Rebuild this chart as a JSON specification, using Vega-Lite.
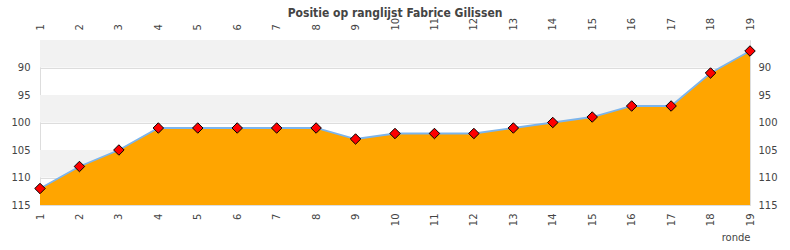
{
  "$schema": "https://vega.github.io/schema/vega-lite/v6.json",
  "width": 710,
  "height": 165,
  "autosize": {"type": "none"},
  "padding": {"left": 40, "top": 40, "right": 40, "bottom": 45},
  "background": "white",
  "title": {
    "text": "Positie op ranglijst Fabrice Gilissen",
    "font": "DejaVu Sans Condensed",
    "fontSize": 12,
    "fontWeight": "bold",
    "color": "#444444",
    "anchor": "middle",
    "offset": -3
  },
  "config": {
    "view": {"stroke": "#dddddd", "strokeWidth": 1},
    "axis": {
      "labelFont": "DejaVu Sans",
      "labelFontSize": 10,
      "labelColor": "#444444",
      "titleFont": "DejaVu Sans",
      "titleFontSize": 10,
      "titleFontWeight": "normal",
      "titleColor": "#444444",
      "ticks": false,
      "domain": false
    }
  },
  "datasets": {
    "stand": [
      {"ronde": 1, "positie": 112},
      {"ronde": 2, "positie": 108},
      {"ronde": 3, "positie": 105},
      {"ronde": 4, "positie": 101},
      {"ronde": 5, "positie": 101},
      {"ronde": 6, "positie": 101},
      {"ronde": 7, "positie": 101},
      {"ronde": 8, "positie": 101},
      {"ronde": 9, "positie": 103},
      {"ronde": 10, "positie": 102},
      {"ronde": 11, "positie": 102},
      {"ronde": 12, "positie": 102},
      {"ronde": 13, "positie": 101},
      {"ronde": 14, "positie": 100},
      {"ronde": 15, "positie": 99},
      {"ronde": 16, "positie": 97},
      {"ronde": 17, "positie": 97},
      {"ronde": 18, "positie": 91},
      {"ronde": 19, "positie": 87}
    ],
    "banden": [
      {"van": 85, "tot": 90},
      {"van": 95, "tot": 100},
      {"van": 105, "tot": 110}
    ]
  },
  "layer": [
    {
      "data": {"name": "banden"},
      "mark": {"type": "rect", "color": "#f2f2f2"},
      "encoding": {
        "y": {"field": "van", "type": "quantitative", "scale": {"domain": [85, 115], "reverse": true, "zero": false, "nice": false}, "axis": null},
        "y2": {"field": "tot"}
      }
    },
    {
      "data": {"name": "stand"},
      "mark": {"type": "area", "color": "#ffa500", "interpolate": "linear"},
      "encoding": {
        "x": {
          "field": "ronde", "type": "quantitative",
          "scale": {"domain": [1, 19], "nice": false, "zero": false},
          "axis": {"orient": "bottom", "values": [1,2,3,4,5,6,7,8,9,10,11,12,13,14,15,16,17,18,19], "labelAngle": 270, "labelPadding": 8, "grid": false, "title": "ronde", "titleAnchor": "end", "titlePadding": 7}
        },
        "y": {
          "field": "positie", "type": "quantitative",
          "scale": {"domain": [85, 115], "reverse": true, "zero": false, "nice": false},
          "axis": {"orient": "left", "values": [90, 95, 100, 105, 110, 115], "grid": true, "gridColor": "#dddddd", "labelPadding": 10, "title": null}
        },
        "y2": {"datum": 115}
      }
    },
    {
      "data": {"name": "stand"},
      "mark": {"type": "line", "color": "#7cb5ec", "strokeWidth": 1.8},
      "encoding": {
        "x": {
          "field": "ronde", "type": "quantitative",
          "axis": {"orient": "top", "values": [1,2,3,4,5,6,7,8,9,10,11,12,13,14,15,16,17,18,19], "labelAngle": 270, "labelPadding": 10, "grid": false, "title": null}
        },
        "y": {
          "field": "positie", "type": "quantitative",
          "axis": {"orient": "right", "values": [90, 95, 100, 105, 110, 115], "grid": false, "labelPadding": 8, "title": null}
        }
      }
    },
    {
      "data": {"name": "stand"},
      "mark": {"type": "point", "shape": "diamond", "filled": true, "fill": "#ff0000", "stroke": "#000000", "strokeWidth": 1, "size": 110, "opacity": 1},
      "encoding": {
        "x": {"field": "ronde", "type": "quantitative", "axis": null},
        "y": {"field": "positie", "type": "quantitative", "axis": null}
      }
    }
  ],
  "resolve": {"scale": {"x": "shared", "y": "shared"}}
}
